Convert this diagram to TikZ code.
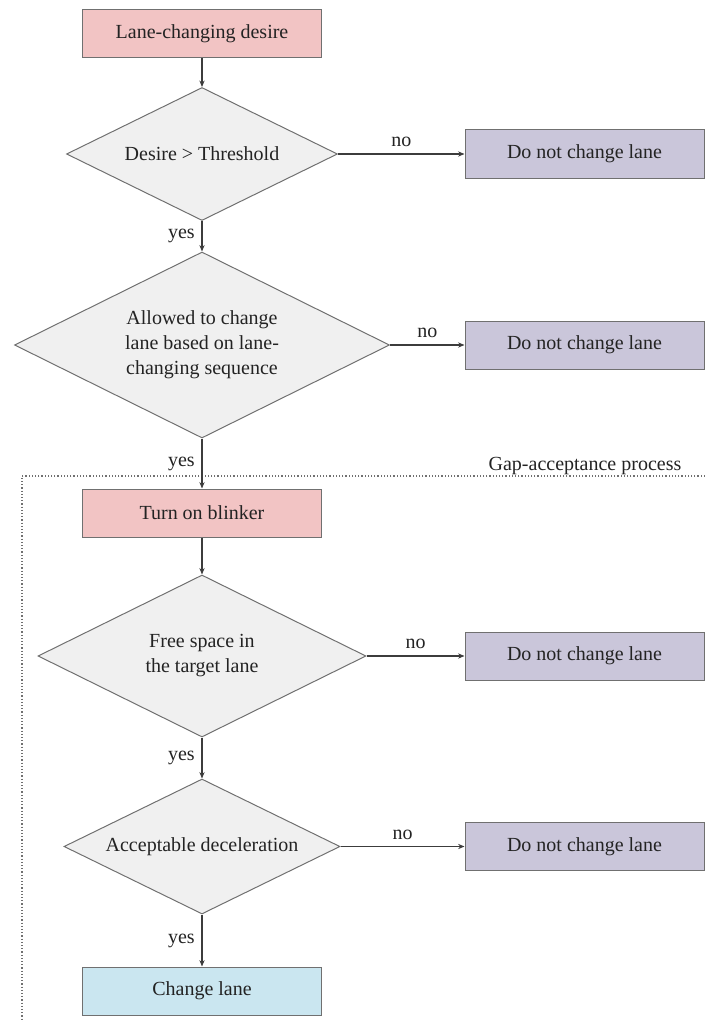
\documentclass[tikz,border=0pt]{standalone}
\usepackage{fontspec}
\setmainfont{Liberation Serif}
\usetikzlibrary{shapes.geometric,arrows.meta}

\definecolor{startfill}{RGB}{242,196,196}
\definecolor{stopfill}{RGB}{202,198,218}
\definecolor{endfill}{RGB}{202,230,240}
\definecolor{decfill}{RGB}{240,240,240}
\definecolor{edgec}{RGB}{112,112,112}
\definecolor{linec}{RGB}{60,60,60}
\definecolor{textc}{RGB}{35,35,35}

\begin{document}
\begin{tikzpicture}[x=0.5pt,y=-0.5pt,
  font=\fontsize{10}{12.5}\selectfont,
  every node/.style={text=textc},
  procbox/.style={draw=edgec, line width=0.5pt, minimum width=119.5pt,
    minimum height=24pt, inner sep=0pt},
  startbox/.style={procbox, fill=startfill},
  stopbox/.style={procbox, fill=stopfill},
  endbox/.style={procbox, fill=endfill},
  decision/.style={diamond, aspect=2, draw=edgec, fill=decfill,
    line width=0.5pt, inner sep=0pt, align=center},
  flow/.style={draw=linec, line width=0.6pt,
    -{Stealth[length=3.2pt,width=2.6pt]}},
  region/.style={draw=edgec, line width=0.6pt, densely dotted}
]
\useasboundingbox (0,0) rectangle (705,1022);

% gap-acceptance frame
\coordinate (gapR) at (705,476);
\coordinate (gapL) at (22,476);
\coordinate (gapB) at (22,1022);
\draw[region] (gapR) -- (gapL) -- (gapB);
\node (gaplabel) at (585,466) {Gap-acceptance process};

% main column
\node[startbox] (desire) at (202,34) {Lane-changing desire};
\node[decision, minimum width=135.5pt, minimum height=66.5pt] (thr) at (202,154)
  {Desire > Threshold};
\node[decision, minimum width=187.5pt, minimum height=93pt] (allowed) at (202,345)
  {Allowed to change\\lane based on lane-\\changing sequence};
\node[startbox] (blinker) at (202,513) {Turn on blinker};
\node[decision, minimum width=164pt, minimum height=81pt] (space) at (202,656)
  {Free space in\\the target lane};
\node[decision, minimum width=138pt, minimum height=67.5pt] (decel) at (202,846.5)
  {Acceptable deceleration};
\node[endbox] (change) at (202,991) {Change lane};

% rejection outcomes
\node[stopbox] (stop1) at (584.5,154) {Do not change lane};
\node[stopbox] (stop2) at (584.5,345) {Do not change lane};
\node[stopbox] (stop3) at (584.5,656) {Do not change lane};
\node[stopbox] (stop4) at (584.5,846.5) {Do not change lane};

% flow
\draw[flow] (desire) -- (thr);
\draw[flow] (thr) -- node[left] {yes} (allowed);
\draw[flow] (allowed) -- node[left] {yes} (blinker);
\draw[flow] (blinker) -- (space);
\draw[flow] (space) -- node[left] {yes} (decel);
\draw[flow] (decel) -- node[left] {yes} (change);

\draw[flow] (thr) -- node[above] {no} (stop1);
\draw[flow] (allowed) -- node[above] {no} (stop2);
\draw[flow] (space) -- node[above] {no} (stop3);
\draw[flow] (decel) -- node[above] {no} (stop4);
\end{tikzpicture}
\end{document}
